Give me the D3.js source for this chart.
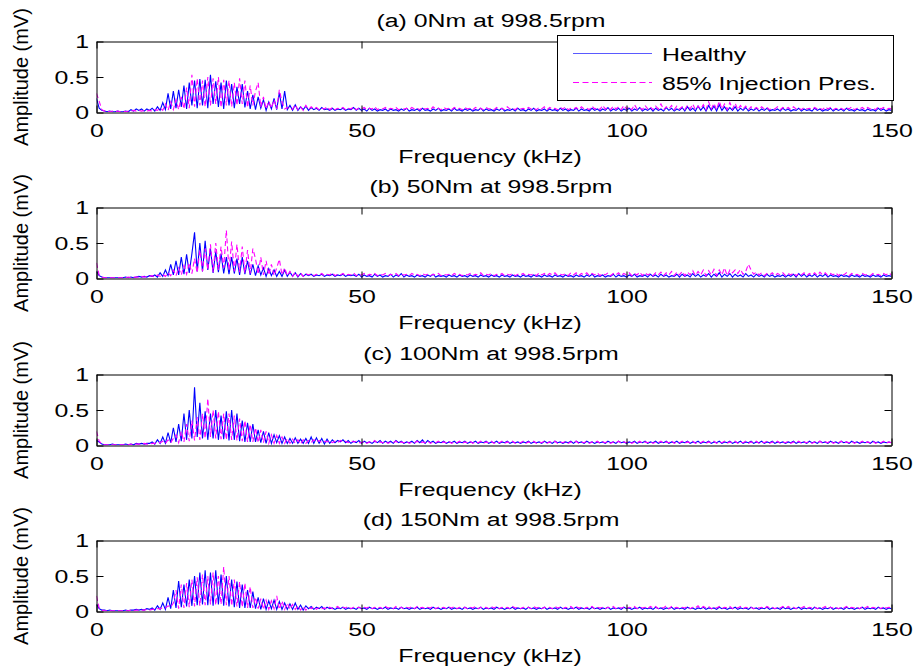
<!DOCTYPE html>
<html><head><meta charset="utf-8">
<script src="https://cdn.jsdelivr.net/npm/d3@7"></script>
<style>body{margin:0;background:#fff}svg{display:block}</style>
</head><body><svg id="c" width="916" height="671"></svg>
<script>
// ---------- data ----------
const freqStepKHz = 0.5; // spectrum bin spacing (kHz), bins 0..150
const panelTitles = ["(a) 0Nm at 998.5rpm","(b) 50Nm at 998.5rpm","(c) 100Nm at 998.5rpm","(d) 150Nm at 998.5rpm"];
const seriesNames = ["Healthy","85% Injection Pres."];
const xTicks = [0,50,100,150];
const yTicks = [0,0.5,1];
const xLabel = "Frequency (kHz)";
const yLabel = "Amplitude (mV)";

const healthyA = [
.20,.06,.03,.02,.01,.02,.01,.01,.02,.01,
.01,.02,.01,.04,.02,.05,.03,.05,.02,.05,
.03,.06,.02,.08,.03,.14,.04,.27,.05,.30,
.06,.32,.08,.38,.05,.42,.10,.45,.06,.47,
.10,.46,.06,.53,.12,.44,.08,.42,.05,.45,
.10,.40,.06,.36,.12,.40,.07,.30,.05,.25,
.04,.22,.06,.18,.03,.15,.05,.20,.04,.28,
.05,.30,.04,.10,.03,.11,.03,.08,.04,.09,
.03,.07,.04,.06,.03,.07,.04,.05,.03,.06,
.03,.05,.04,.06,.03,.05,.04,.07,.03,.06,
.03,.05,.02,.06,.03,.05,.02,.04,.03,.05,
.02,.05,.03,.04,.02,.05,.03,.06,.02,.04,
.03,.05,.02,.06,.03,.04,.02,.05,.03,.06,
.02,.04,.03,.05,.02,.06,.03,.04,.02,.05,
.03,.05,.02,.04,.03,.06,.02,.05,.03,.04,
.02,.05,.03,.06,.02,.04,.03,.05,.02,.06,
.03,.04,.02,.05,.03,.06,.02,.04,.03,.05,
.02,.05,.03,.04,.02,.06,.03,.05,.02,.04,
.03,.06,.02,.05,.03,.04,.02,.06,.03,.05,
.02,.05,.03,.07,.02,.05,.03,.06,.02,.05,
.03,.06,.02,.05,.03,.07,.02,.05,.03,.06,
.02,.06,.03,.05,.02,.07,.03,.06,.02,.05,
.03,.07,.02,.08,.03,.06,.02,.09,.03,.08,
.02,.10,.03,.09,.02,.11,.03,.08,.02,.07,
.03,.08,.02,.06,.03,.07,.02,.05,.03,.06,
.02,.05,.03,.06,.02,.04,.03,.05,.02,.06,
.03,.05,.02,.04,.03,.06,.02,.05,.03,.04,
.02,.06,.03,.05,.02,.04,.03,.06,.02,.05,
.03,.05,.02,.06,.03,.04,.02,.05,.03,.04,
.02,.05,.03,.04,.02,.06,.03,.05,.02,.04,.03];
const injA = [
.27,.16,.04,.02,.02,.01,.02,.01,.02,.01,
.02,.01,.02,.02,.03,.02,.03,.02,.03,.02,
.03,.02,.04,.03,.06,.03,.12,.03,.15,.04,
.18,.04,.22,.05,.35,.06,.53,.08,.48,.10,
.45,.08,.50,.10,.48,.12,.50,.07,.46,.10,
.45,.08,.42,.10,.48,.12,.45,.07,.38,.10,
.30,.42,.08,.22,.05,.16,.06,.18,.05,.32,
.15,.05,.07,.04,.05,.11,.04,.08,.03,.10,
.04,.08,.05,.07,.04,.06,.05,.08,.04,.07,
.04,.06,.05,.07,.04,.06,.05,.08,.04,.06,
.05,.07,.04,.06,.05,.08,.04,.06,.05,.07,
.04,.06,.05,.07,.04,.05,.05,.06,.04,.07,
.05,.06,.04,.07,.05,.06,.04,.08,.05,.06,
.04,.07,.05,.06,.04,.07,.05,.06,.04,.07,
.05,.06,.04,.07,.05,.06,.04,.07,.05,.06,
.04,.07,.05,.06,.04,.08,.05,.06,.04,.07,
.05,.06,.04,.07,.05,.06,.04,.07,.05,.08,
.04,.07,.05,.06,.04,.07,.05,.08,.04,.06,
.05,.07,.04,.08,.05,.06,.04,.09,.05,.07,
.04,.10,.05,.07,.04,.09,.05,.08,.04,.10,
.05,.08,.04,.11,.05,.07,.04,.10,.05,.08,
.04,.09,.05,.12,.04,.08,.05,.10,.04,.09,
.05,.08,.04,.10,.05,.12,.04,.09,.05,.11,
.04,.15,.05,.13,.04,.16,.05,.12,.04,.14,
.05,.13,.04,.10,.05,.09,.04,.08,.05,.07,
.04,.08,.05,.07,.04,.06,.05,.08,.04,.07,
.05,.07,.04,.08,.05,.06,.04,.07,.05,.06,
.04,.07,.05,.06,.04,.08,.05,.07,.04,.06,
.05,.06,.04,.07,.05,.08,.04,.06,.05,.07,
.04,.07,.05,.06,.04,.08,.05,.07,.04,.06,.05];

const healthyB = [
.10,.04,.02,.01,.01,.01,.01,.01,.01,.01,
.01,.02,.01,.02,.01,.02,.03,.02,.03,.02,
.04,.03,.05,.02,.08,.03,.12,.04,.20,.05,
.25,.05,.30,.06,.34,.08,.35,.65,.10,.50,
.10,.53,.12,.42,.08,.38,.09,.35,.07,.30,
.06,.30,.07,.28,.05,.30,.06,.25,.05,.20,
.04,.18,.05,.15,.03,.14,.04,.12,.03,.10,
.03,.12,.03,.09,.03,.08,.02,.07,.03,.06,
.04,.06,.03,.05,.04,.06,.03,.05,.04,.06,
.03,.05,.04,.06,.03,.05,.04,.05,.03,.06,
.02,.05,.03,.04,.02,.06,.03,.05,.02,.04,
.03,.06,.02,.05,.03,.07,.02,.05,.03,.04,
.02,.05,.03,.04,.02,.05,.03,.06,.02,.04,
.03,.04,.02,.05,.03,.04,.02,.05,.03,.04,
.02,.05,.03,.04,.02,.05,.03,.04,.02,.05,
.03,.04,.02,.05,.03,.04,.02,.05,.03,.04,
.02,.05,.03,.04,.02,.05,.03,.04,.02,.05,
.03,.04,.02,.05,.03,.04,.02,.05,.03,.04,
.02,.05,.03,.04,.02,.05,.03,.06,.02,.04,
.03,.05,.02,.04,.03,.06,.02,.05,.03,.04,
.02,.05,.03,.06,.02,.04,.03,.05,.02,.06,
.03,.05,.02,.06,.03,.05,.02,.04,.03,.06,
.02,.06,.03,.05,.02,.07,.03,.06,.02,.05,
.03,.07,.02,.06,.03,.08,.02,.06,.03,.07,
.02,.06,.03,.05,.02,.07,.03,.05,.02,.06,
.03,.05,.02,.06,.03,.05,.02,.04,.03,.05,
.02,.05,.03,.06,.02,.07,.03,.06,.02,.05,
.03,.06,.02,.05,.03,.06,.02,.05,.03,.04,
.02,.05,.03,.04,.02,.05,.03,.04,.02,.05,
.03,.04,.02,.05,.03,.04,.02,.05,.03,.04,.03];
const injB = [
.22,.05,.02,.01,.01,.01,.01,.01,.01,.01,
.01,.01,.02,.01,.02,.02,.02,.03,.02,.03,
.03,.04,.02,.05,.03,.06,.03,.08,.04,.12,
.04,.15,.05,.18,.06,.22,.07,.28,.08,.40,
.10,.42,.12,.48,.09,.50,.12,.45,.15,.68,
.12,.52,.10,.48,.09,.45,.08,.40,.07,.42,
.28,.06,.30,.05,.25,.05,.20,.04,.15,.27,
.05,.15,.04,.10,.03,.09,.03,.08,.03,.07,
.05,.07,.04,.06,.05,.07,.04,.06,.05,.08,
.04,.06,.05,.07,.04,.06,.05,.08,.04,.06,
.05,.07,.04,.06,.05,.07,.04,.06,.05,.07,
.04,.06,.05,.07,.04,.06,.05,.06,.04,.07,
.05,.06,.04,.07,.05,.06,.04,.06,.05,.07,
.04,.06,.05,.06,.04,.07,.05,.06,.04,.06,
.05,.07,.04,.06,.05,.08,.04,.06,.05,.07,
.04,.06,.05,.07,.04,.06,.05,.07,.04,.06,
.05,.07,.04,.06,.05,.07,.04,.08,.05,.07,
.04,.07,.05,.08,.04,.06,.05,.07,.04,.08,
.05,.08,.04,.07,.05,.08,.04,.07,.05,.08,
.04,.07,.05,.08,.04,.07,.05,.08,.04,.07,
.05,.08,.04,.07,.05,.09,.04,.08,.05,.07,
.04,.08,.05,.09,.04,.08,.05,.10,.04,.09,
.05,.10,.04,.09,.05,.11,.04,.10,.05,.12,
.04,.11,.05,.13,.04,.12,.05,.15,.04,.12,
.08,.12,.07,.13,.06,.10,.20,.12,.06,.09,
.05,.08,.04,.07,.05,.08,.04,.07,.05,.08,
.04,.07,.05,.08,.04,.07,.05,.08,.04,.07,
.05,.08,.04,.09,.05,.08,.04,.07,.05,.08,
.04,.07,.05,.08,.04,.07,.05,.06,.04,.07,
.05,.06,.04,.07,.05,.06,.04,.07,.05,.08,.05];

const healthyC = [
.07,.05,.02,.01,.01,.01,.02,.01,.01,.01,
.01,.02,.01,.02,.01,.03,.02,.03,.02,.03,
.03,.05,.02,.08,.03,.12,.03,.18,.04,.25,
.05,.30,.06,.45,.08,.50,.10,.82,.12,.60,
.10,.48,.08,.45,.10,.50,.08,.42,.09,.48,
.07,.50,.08,.45,.06,.35,.05,.32,.05,.30,
.05,.22,.04,.20,.03,.18,.03,.15,.04,.14,
.03,.12,.03,.10,.03,.11,.03,.09,.03,.10,
.03,.12,.03,.11,.03,.10,.02,.09,.03,.08,
.04,.07,.05,.08,.04,.07,.03,.06,.04,.07,
.03,.06,.04,.05,.03,.06,.04,.07,.03,.06,
.04,.06,.03,.07,.04,.06,.03,.05,.04,.06,
.03,.07,.04,.08,.03,.07,.04,.06,.03,.05,
.04,.06,.03,.05,.04,.06,.03,.05,.04,.06,
.03,.05,.04,.06,.03,.05,.04,.06,.03,.05,
.04,.06,.03,.05,.04,.06,.03,.05,.04,.05,
.03,.05,.04,.06,.03,.05,.04,.05,.03,.06,
.04,.05,.03,.06,.04,.05,.03,.05,.04,.06,
.03,.06,.04,.05,.03,.06,.04,.05,.03,.05,
.04,.05,.03,.06,.04,.05,.03,.06,.04,.05,
.03,.05,.04,.06,.03,.05,.04,.06,.03,.05,
.04,.06,.03,.05,.04,.06,.03,.05,.04,.06,
.03,.05,.04,.06,.03,.05,.04,.06,.03,.05,
.04,.06,.03,.05,.04,.06,.03,.05,.04,.06,
.03,.05,.04,.06,.03,.05,.04,.06,.03,.05,
.04,.06,.03,.05,.04,.06,.03,.05,.04,.05,
.03,.05,.04,.06,.03,.05,.04,.05,.03,.06,
.04,.05,.03,.06,.04,.05,.03,.06,.04,.05,
.03,.06,.04,.05,.03,.06,.04,.05,.03,.05,
.04,.05,.03,.06,.04,.05,.03,.05,.04,.05,.04];
const injC = [
.20,.06,.02,.01,.01,.01,.01,.01,.01,.01,
.01,.01,.01,.02,.01,.02,.02,.02,.03,.02,
.02,.03,.03,.04,.04,.06,.03,.08,.04,.10,
.15,.04,.20,.05,.30,.06,.35,.07,.40,.08,
.45,.10,.66,.12,.50,.10,.48,.09,.45,.08,
.45,.08,.42,.07,.38,.06,.35,.05,.30,.05,
.25,.04,.22,.04,.20,.03,.15,.03,.14,.03,
.12,.03,.10,.03,.09,.03,.08,.02,.08,.03,
.07,.04,.08,.05,.07,.04,.06,.05,.07,.04,
.06,.04,.07,.05,.06,.04,.07,.05,.06,.04,
.04,.06,.03,.05,.04,.07,.03,.05,.04,.06,
.03,.05,.04,.06,.03,.05,.04,.06,.03,.05,
.04,.06,.03,.05,.04,.06,.03,.05,.04,.06,
.03,.05,.04,.06,.03,.05,.04,.06,.03,.05,
.04,.06,.03,.05,.04,.06,.03,.05,.04,.06,
.03,.05,.04,.06,.03,.05,.04,.06,.03,.05,
.04,.06,.03,.05,.04,.06,.03,.05,.04,.06,
.03,.05,.04,.06,.03,.05,.04,.06,.03,.05,
.04,.06,.03,.05,.04,.06,.03,.05,.04,.06,
.03,.05,.04,.06,.03,.05,.04,.06,.03,.05,
.04,.06,.03,.05,.04,.06,.03,.05,.04,.06,
.03,.05,.04,.06,.03,.05,.04,.07,.03,.05,
.04,.06,.03,.05,.04,.06,.03,.05,.04,.06,
.03,.05,.04,.06,.03,.05,.04,.06,.03,.05,
.04,.06,.03,.05,.04,.06,.03,.05,.04,.06,
.03,.05,.04,.06,.03,.05,.04,.06,.03,.05,
.04,.06,.03,.05,.04,.06,.03,.05,.04,.06,
.03,.05,.04,.06,.03,.05,.04,.07,.03,.05,
.04,.06,.03,.05,.04,.06,.03,.05,.04,.06,
.03,.05,.04,.06,.03,.05,.04,.06,.03,.05,.04];

const healthyD = [
.10,.04,.02,.02,.01,.02,.01,.01,.01,.01,
.01,.02,.01,.02,.02,.03,.02,.03,.02,.04,
.03,.05,.02,.08,.03,.12,.03,.20,.04,.30,
.05,.43,.06,.38,.07,.45,.08,.50,.09,.55,
.10,.58,.09,.55,.08,.58,.10,.52,.08,.50,
.07,.45,.06,.42,.05,.38,.05,.30,.05,.28,
.04,.20,.03,.18,.03,.15,.04,.16,.03,.14,
.03,.12,.03,.11,.03,.12,.03,.09,.02,.08,
.04,.07,.03,.06,.04,.07,.03,.06,.04,.05,
.03,.05,.04,.06,.03,.05,.04,.05,.03,.06,
.04,.05,.03,.06,.04,.05,.03,.05,.04,.06,
.03,.05,.04,.05,.03,.06,.04,.05,.03,.05,
.04,.06,.03,.05,.04,.05,.03,.06,.04,.05,
.03,.05,.04,.06,.03,.05,.04,.05,.03,.06,
.04,.05,.03,.05,.04,.06,.03,.05,.04,.05,
.03,.06,.04,.05,.03,.05,.04,.06,.03,.05,
.04,.05,.03,.06,.04,.05,.03,.05,.04,.06,
.03,.05,.04,.05,.03,.06,.04,.05,.03,.05,
.04,.06,.03,.05,.04,.05,.03,.06,.04,.05,
.03,.05,.04,.06,.03,.05,.04,.05,.03,.06,
.04,.05,.03,.05,.04,.06,.03,.05,.04,.05,
.03,.06,.04,.05,.03,.05,.04,.06,.03,.05,
.04,.05,.03,.06,.04,.05,.03,.05,.04,.06,
.03,.05,.04,.05,.03,.06,.04,.05,.03,.05,
.04,.06,.03,.05,.04,.05,.03,.06,.04,.05,
.03,.05,.04,.06,.03,.05,.04,.05,.03,.06,
.04,.05,.03,.05,.04,.06,.03,.05,.04,.05,
.03,.06,.04,.05,.03,.05,.04,.06,.03,.05,
.04,.05,.03,.06,.04,.05,.03,.05,.04,.06,
.03,.05,.04,.05,.03,.06,.04,.05,.03,.05,.04];
const injD = [
.22,.05,.02,.01,.01,.01,.01,.01,.01,.01,
.01,.01,.01,.02,.01,.02,.02,.02,.02,.03,
.02,.03,.03,.04,.04,.05,.05,.08,.06,.12,
.30,.04,.38,.05,.40,.06,.45,.07,.48,.08,
.52,.09,.50,.10,.55,.09,.50,.10,.63,.09,
.50,.08,.45,.07,.42,.06,.40,.05,.35,.05,
.20,.04,.18,.03,.16,.03,.15,.04,.22,.03,
.15,.03,.12,.03,.10,.03,.08,.02,.07,.02,
.06,.04,.07,.03,.06,.04,.05,.03,.06,.04,
.05,.07,.04,.06,.05,.07,.04,.06,.05,.06,
.04,.06,.05,.07,.04,.06,.05,.06,.04,.07,
.05,.06,.04,.07,.05,.06,.04,.06,.05,.07,
.04,.07,.05,.06,.04,.06,.05,.07,.04,.06,
.05,.06,.04,.06,.05,.07,.04,.06,.05,.06,
.04,.06,.05,.07,.04,.06,.05,.06,.04,.07,
.05,.07,.04,.06,.05,.06,.04,.07,.05,.06,
.04,.06,.05,.06,.04,.07,.05,.06,.04,.06,
.05,.06,.04,.07,.05,.06,.04,.06,.05,.07,
.04,.07,.05,.06,.04,.06,.05,.07,.04,.06,
.05,.06,.04,.06,.05,.07,.04,.06,.05,.06,
.04,.06,.05,.07,.04,.06,.05,.06,.04,.07,
.05,.07,.04,.06,.05,.08,.04,.07,.05,.06,
.04,.06,.05,.07,.04,.06,.05,.08,.04,.07,
.05,.07,.04,.06,.05,.07,.04,.06,.05,.07,
.04,.06,.05,.07,.04,.06,.05,.06,.04,.06,
.05,.06,.04,.07,.05,.06,.04,.06,.05,.07,
.04,.07,.05,.06,.04,.06,.05,.07,.04,.06,
.05,.06,.04,.06,.05,.07,.04,.06,.05,.06,
.04,.06,.05,.07,.04,.06,.05,.06,.04,.07,
.05,.07,.04,.06,.05,.06,.04,.07,.05,.06,.05];

const healthySeries = [healthyA, healthyB, healthyC, healthyD];
const injSeries = [injA, injB, injC, injD];

// ---------- layout ----------
const W = 916, H = 671;
const plotLeft = 96.5, plotRight = 891.5, plotH = 71;
const panelTops = [41.5, 207.5, 374.5, 540.5];
const FONT = "'Liberation Sans', Arial, Helvetica, sans-serif";
const FS = 18, SX = 1.38, TICK = 7;
const colHealthy = "#0000ff", colInj = "#ff00ff";

const svg = d3.select("#c");
svg.append("rect").attr("width", W).attr("height", H).attr("fill", "#fff");
const x = d3.scaleLinear().domain([0, 150]).range([plotLeft, plotRight]);

function stretchedText(g, tx, ty, str, anchor, size) {
  return g.append("text")
    .attr("transform", `translate(${tx},${ty}) scale(${SX},1)`)
    .attr("text-anchor", anchor)
    .attr("font-family", FONT).attr("font-size", size || FS)
    .attr("fill", "#000").text(str);
}

panelTops.forEach((top, p) => {
  const bottom = top + plotH;
  const y = d3.scaleLinear().domain([0, 1]).range([bottom, top]);
  const g = svg.append("g");

  const clipId = "clip" + p;
  g.append("clipPath").attr("id", clipId).append("rect")
    .attr("x", plotLeft).attr("y", top).attr("width", plotRight - plotLeft).attr("height", plotH);

  const line = d3.line().x((d, i) => x(i * freqStepKHz)).y(d => y(d));
  const dg = g.append("g").attr("clip-path", `url(#${clipId})`);
  dg.append("path").datum(healthySeries[p]).attr("d", line)
    .attr("fill", "none").attr("stroke", colHealthy).attr("stroke-width", 1.1);
  dg.append("path").datum(injSeries[p]).attr("d", line)
    .attr("fill", "none").attr("stroke", colInj).attr("stroke-width", 1.1)
    .attr("stroke-dasharray", "5,3");

  // axes (box with inward ticks)
  const axB = g.append("g").attr("transform", `translate(0,${bottom})`)
    .call(d3.axisBottom(x).tickValues(xTicks).tickSizeInner(-TICK).tickSizeOuter(0).tickFormat(d3.format("d")));
  axB.selectAll("text").attr("y", 24.5).attr("dy", null)
    .attr("transform", `scale(${SX},1)`);
  const axT = g.append("g").attr("transform", `translate(0,${top})`)
    .call(d3.axisTop(x).tickValues(xTicks).tickSizeInner(-TICK).tickSizeOuter(0).tickFormat(""));
  const axL = g.append("g").attr("transform", `translate(${plotLeft},0)`)
    .call(d3.axisLeft(y).tickValues(yTicks).tickSizeInner(-TICK).tickSizeOuter(0).tickFormat(d => d3.format("")(d)));
  axL.selectAll("text").attr("x", -7.5 / SX).attr("dy", null).attr("y", 6)
    .attr("transform", `scale(${SX},1)`);
  const axR = g.append("g").attr("transform", `translate(${plotRight},0)`)
    .call(d3.axisRight(y).tickValues(yTicks).tickSizeInner(-TICK).tickSizeOuter(0).tickFormat(""));
  [axB, axT, axL, axR].forEach(a => {
    a.selectAll("text").attr("font-family", FONT).attr("font-size", FS).attr("fill", "#000");
    a.selectAll("path,line").attr("stroke", "#000").attr("stroke-width", 1);
    a.attr("font-family", FONT).attr("font-size", FS);
  });

  // titles and labels
  stretchedText(g, 491, top - 14.5, panelTitles[p], "middle");
  stretchedText(g, 490, bottom + 50.5, xLabel, "middle");
  g.append("text")
    .attr("transform", `translate(27.5,${top + plotH / 2}) rotate(-90)`)
    .attr("text-anchor", "middle").attr("font-family", FONT).attr("font-size", 20)
    .attr("fill", "#000").text(yLabel);
});

// legend in panel (a)
const lg = svg.append("g");
lg.append("rect").attr("x", 557.5).attr("y", 35.5).attr("width", 336).attr("height", 65)
  .attr("fill", "#fff").attr("stroke", "#000").attr("stroke-width", 1);
const legendRows = [
  { name: seriesNames[0], color: "#5a5aff", dash: "none", y: 53.5 },
  { name: seriesNames[1], color: colInj, dash: "6,3.5", y: 82.5 }
];
legendRows.forEach(r => {
  lg.append("path").attr("d", d3.line()([[573, r.y], [652, r.y]]))
    .attr("fill", "none").attr("stroke", r.color).attr("stroke-width", 1.2)
    .attr("stroke-dasharray", r.dash);
  stretchedText(lg, 662, r.y + 7.5, r.name, "start");
});
</script>
</body></html>
